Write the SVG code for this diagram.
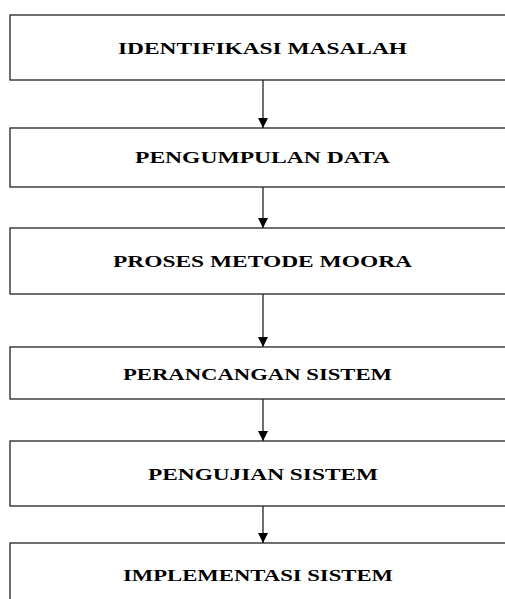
<svg xmlns="http://www.w3.org/2000/svg" width="505" height="599" viewBox="0 0 505 599">
<style>
.box{fill:#fff;stroke:#222;stroke-width:1.3}
.lbl{font-family:"Liberation Serif","Times New Roman",serif;font-weight:bold;font-size:17px;fill:#000}
.conn line{stroke:#222;stroke-width:1.3}
</style>
<defs>
<marker id="ah" markerWidth="10" markerHeight="10" refX="10" refY="5" orient="auto" markerUnits="userSpaceOnUse">
<path d="M0,0 L10,5 L0,10 Z" fill="#000"/>
</marker>
</defs>
<rect width="505" height="599" fill="#fff"/>
<g id="n1"><rect class="box" x="10" y="15" width="520" height="65"/><text class="lbl" x="118" y="54" textLength="289" lengthAdjust="spacingAndGlyphs">IDENTIFIKASI MASALAH</text></g>
<g id="n2"><rect class="box" x="10" y="128" width="520" height="59"/><text class="lbl" x="135" y="163" textLength="255" lengthAdjust="spacingAndGlyphs">PENGUMPULAN DATA</text></g>
<g id="n3"><rect class="box" x="10" y="228" width="520" height="66"/><text class="lbl" x="113" y="267" textLength="299" lengthAdjust="spacingAndGlyphs">PROSES METODE MOORA</text></g>
<g id="n4"><rect class="box" x="10" y="347" width="520" height="52"/><text class="lbl" x="123" y="380" textLength="269" lengthAdjust="spacingAndGlyphs">PERANCANGAN SISTEM</text></g>
<g id="n5"><rect class="box" x="10" y="441" width="520" height="65"/><text class="lbl" x="148" y="480" textLength="230" lengthAdjust="spacingAndGlyphs">PENGUJIAN SISTEM</text></g>
<g id="n6"><rect class="box" x="10" y="543" width="520" height="70"/><text class="lbl" x="123" y="581" textLength="270" lengthAdjust="spacingAndGlyphs">IMPLEMENTASI SISTEM</text></g>
<g id="connectors" class="conn">
<line x1="263" y1="80" x2="263" y2="128" marker-end="url(#ah)"/>
<line x1="263" y1="187" x2="263" y2="228" marker-end="url(#ah)"/>
<line x1="263" y1="294" x2="263" y2="347" marker-end="url(#ah)"/>
<line x1="263" y1="399" x2="263" y2="441" marker-end="url(#ah)"/>
<line x1="263" y1="506" x2="263" y2="543" marker-end="url(#ah)"/>
</g>
</svg>
